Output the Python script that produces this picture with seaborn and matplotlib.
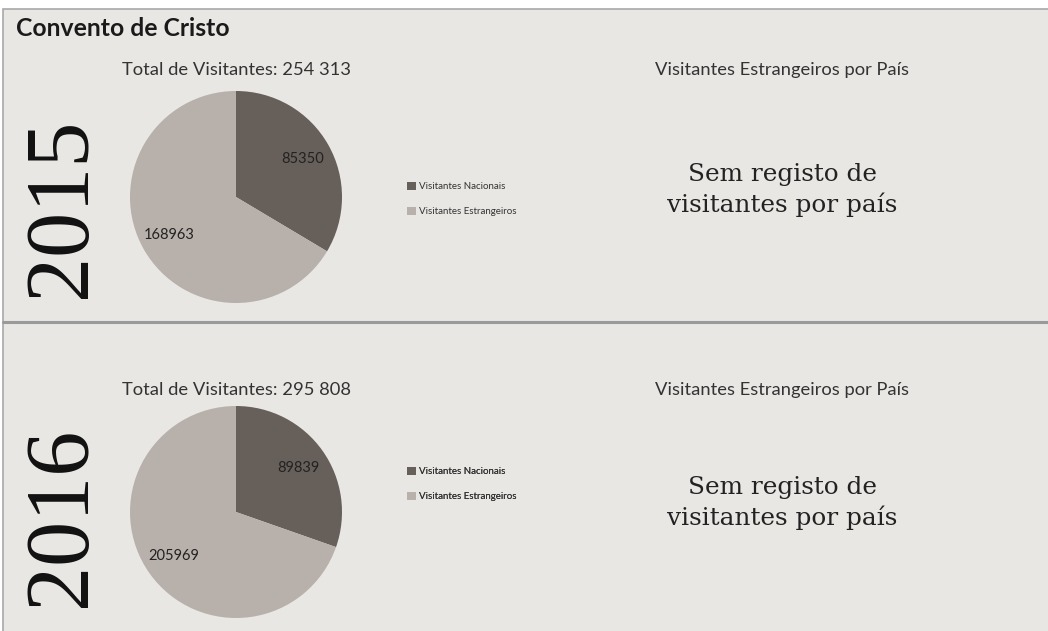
import matplotlib
matplotlib.use('Agg')
import matplotlib.pyplot as plt
import seaborn as sns

# dados
anos = ['2015', '2016']
totais = ['254 313', '295 808']
nacionais = [85350, 89839]
estrangeiros = [168963, 205969]
categorias = ['Visitantes Nacionais', 'Visitantes Estrangeiros']
cores = ['#675f59', '#b8b0aa']

# posicoes (px) de cada painel
y_titulo = [70, 390]
y_pie = [197, 512]
y_legenda = [199, 484]
y_sem = [190, 503]
y_ano = [208, 517]

sns.set_theme(style='white')
plt.rcParams['font.family'] = ['Lato', 'DejaVu Sans']

W, H = 1048, 631
fig = plt.figure(figsize=(W / 100, H / 100), dpi=100)
fig.patch.set_facecolor('white')

# fundo com moldura
bg = fig.add_axes([0, 0, 1, 1])
bg.set_xlim(0, W)
bg.set_ylim(H, 0)
bg.axis('off')
bg.add_patch(plt.Rectangle((3, 9), W, H, facecolor='#e9e7e4', edgecolor='#a8a8a8', lw=1.2))
bg.plot([3, W], [322, 322], color='#9a9a9a', lw=2.2)
bg.text(16, 29, 'Convento de Cristo', fontsize=17.8, fontweight='bold', color='#1a1a1a', va='center')

for i, ano in enumerate(anos):
    bg.text(237, y_titulo[i], 'Total de Visitantes: ' + totais[i], fontsize=13.2, color='#333333',
            ha='center', va='center')
    bg.text(782, y_titulo[i], 'Visitantes Estrangeiros por País', fontsize=13.2, color='#333333',
            ha='center', va='center')
    bg.text(782, y_sem[i], 'Sem registo de\nvisitantes por país', fontsize=17.8,
            family=['DejaVu Serif'], color='#222222', ha='center', va='center', linespacing=1.35)
    bg.text(63, y_ano[i], ano, fontsize=65, family=['Liberation Serif'], color='#111111',
            rotation=90, ha='center', va='center')

    # pie
    r = 106
    ax = fig.add_axes([(236 - r) / W, 1 - (y_pie[i] + r) / H, 2 * r / W, 2 * r / H])
    vals = [nacionais[i], estrangeiros[i]]
    wedges, _, autotexts = ax.pie(vals, colors=cores, startangle=90, counterclock=False,
                                  autopct=lambda p, v=vals: '%d' % round(p * sum(v) / 100),
                                  pctdistance=0.72, wedgeprops=dict(linewidth=0))
    for t in autotexts:
        t.set_fontsize(10.5)
        t.set_color('#222222')
    ax.set_xlim(-1, 1)
    ax.set_ylim(-1, 1)
    ax.set_aspect('equal')

    # legenda
    leg = bg.legend(wedges, categorias, loc='center left',
                    bbox_to_anchor=(398 / W, 1 - y_legenda[i] / H), frameon=False,
                    fontsize=7, handlelength=0.9, handleheight=0.9, labelspacing=1.6,
                    handletextpad=0.4)
    for t in leg.get_texts():
        t.set_color('#333333')
    bg.add_artist(leg)

fig.savefig('out.png', dpi=100, facecolor=fig.get_facecolor())
